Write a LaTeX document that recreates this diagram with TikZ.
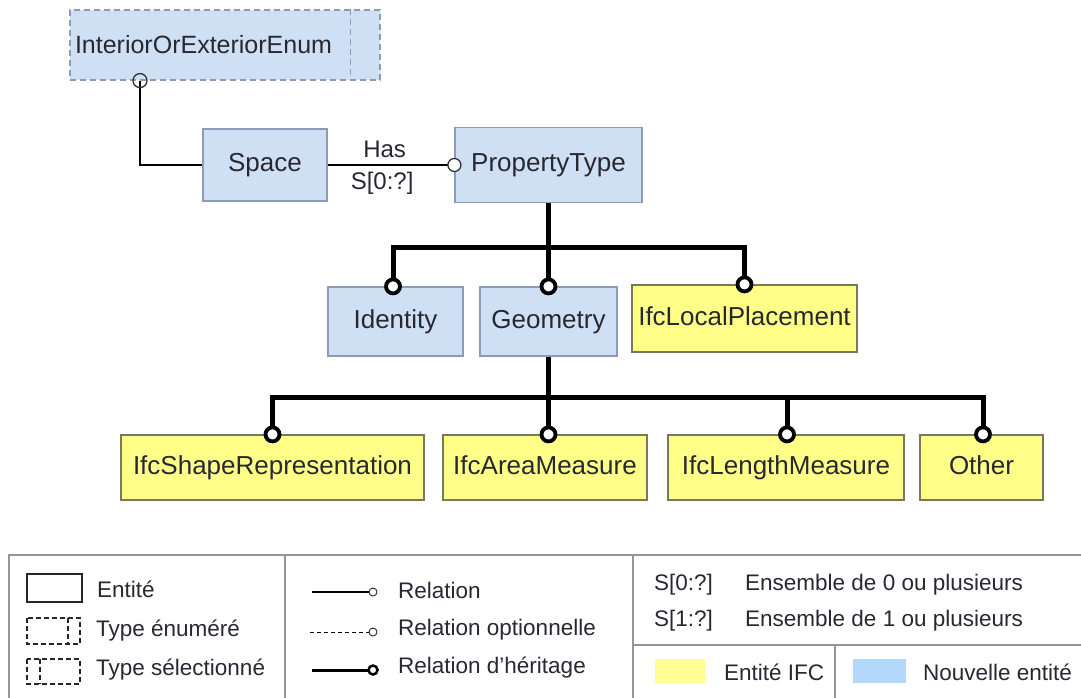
\documentclass[tikz,border=0pt]{standalone}
\usepackage{fontspec}
\setmainfont{Liberation Sans}
\usepackage{tikz}
\usetikzlibrary{positioning, calc}
\definecolor{newblue}{RGB}{208, 224, 244}
\definecolor{newblueline}{RGB}{138, 156, 184}
\definecolor{ifcyellow}{RGB}{255, 255, 136}
\definecolor{ifcyellowline}{RGB}{120, 120, 96}
\definecolor{swatchyellow}{RGB}{255, 255, 150}
\definecolor{swatchblue}{RGB}{180, 216, 252}
\definecolor{framegray}{RGB}{150, 150, 150}
\definecolor{textdark}{RGB}{40, 40, 50}

\begin{document}
\begin{tikzpicture}[
    x=1pt, y=-1pt,
    new_entity/.style={
        rectangle, draw=newblueline, fill=newblue, line width=1.2pt,
        inner sep=0pt, text height=18pt, text depth=5pt,
        font=\fontsize{26}{28}\selectfont, text=textdark
    },
    ifc_entity/.style={
        rectangle, draw=ifcyellowline, fill=ifcyellow, line width=1.2pt,
        inner sep=0pt, text height=18pt, text depth=5pt,
        font=\fontsize{26}{28}\selectfont, text=textdark
    },
    enum_box/.style={
        rectangle, draw=newblueline, fill=newblue, line width=1.2pt, dash pattern=on 6pt off 4pt,
        text width=300pt, align=left, inner sep=5pt, minimum height=70pt,
        font=\fontsize{25}{28}\selectfont, text=textdark
    },
    relation/.style={draw=black, line width=1.5pt},
    inherit/.style={draw=black, line width=5pt},
    knob/.style={draw=black, line width=3.8pt, fill=white},
    ring/.style={draw=black!80, line width=1.3pt},
    card/.style={font=\fontsize{24}{26}\selectfont, text=textdark},
    legend_txt/.style={font=\fontsize{22.5}{25}\selectfont, text=textdark, anchor=west, inner sep=0pt},
    legend_dash/.style={black!85, line width=1.3pt, dash pattern=on 5pt off 3pt},
    frame/.style={draw=framegray, line width=1.5pt}
]
    \useasboundingbox (0,0) rectangle (1081,698);

    % Top: enumerated type
    \node[enum_box] (enum) at (225, 45) {InteriorOrExteriorEnum};
    \draw[newblueline, line width=1.2pt, dash pattern=on 6pt off 4pt] ($(enum.north east)+(-30,0)$) -- ($(enum.south east)+(-30,0)$);

    % Second row: Space and PropertyType
    \node[new_entity, minimum width=124pt, minimum height=72pt] (space) at (265, 165) {Space};
    \node[new_entity, minimum width=187pt, minimum height=75pt] (prop) at (548.5, 165) {PropertyType};

    % Third row
    \node[new_entity, minimum width=135pt, minimum height=69pt] (ident) at (395.5, 321.5) {Identity};
    \node[new_entity, minimum width=137pt, minimum height=69pt] (geom) at (548.5, 321.5) {Geometry};
    \node[ifc_entity, minimum width=225pt, minimum height=67pt] (locpl) at (744.5, 318.5) {IfcLocalPlacement};

    % Bottom row: IFC entities
    \node[ifc_entity, minimum width=303pt, minimum height=65pt] (shaperep) at (272.5, 467.5) {IfcShapeRepresentation};
    \node[ifc_entity, minimum width=204pt, minimum height=65pt] (area) at (545, 467.5) {IfcAreaMeasure};
    \node[ifc_entity, minimum width=236pt, minimum height=65pt] (length) at (786, 467.5) {IfcLengthMeasure};
    \node[ifc_entity, minimum width=123pt, minimum height=65pt] (other) at (981.5, 467.5) {Other};

    % --- Relations ---
    \coordinate (enum_knob) at (enum.south -| 140,0);
    \draw[relation] (enum_knob) |- (space.west);
    \draw[ring] (enum_knob) circle (7);

    \draw[relation] (space.east) -- (prop.west)
        node[card, pos=0.45, above=3pt] {Has}
        node[card, pos=0.43, below=3pt] {S[0:?]};
    \draw[ring, fill=white] (prop.west) circle (6.5);

    % --- Inheritance trees ---
    \coordinate (fork1) at (prop.south |- 0,247);
    \coordinate (ident_top) at (ident.north -| 393,0);
    \draw[inherit] (prop.south) -- (fork1);
    \draw[inherit] (ident_top) |- (fork1) -| (locpl.north);
    \draw[inherit] (fork1) -- (geom.north);

    \coordinate (fork2) at (geom.south |- 0,397);
    \coordinate (area_top) at (geom.south |- area.north);
    \coordinate (length_top) at (length.north -| 787,0);
    \coordinate (other_top) at (other.north -| 983,0);
    \draw[inherit] (geom.south) -- (fork2);
    \draw[inherit] (shaperep.north) |- (fork2) -| (other_top);
    \draw[inherit] (fork2) -- (area_top);
    \draw[inherit] (length_top) -- (length_top |- fork2);

    \foreach \k in {ident_top, geom.north, locpl.north, shaperep.north, area_top, length_top, other_top}
        \draw[knob] (\k) circle (7);

    % --- Legend ---
    \draw[frame] (9,698) -- (9,555) -- (1081,555);
    \draw[frame] (285,555) -- (285,698);
    \draw[frame] (633,555) -- (633,698);
    \draw[frame] (633,645) -- (1081,645);
    \draw[frame] (835,645) -- (835,698);

    % entity kinds
    \draw[black!85, line width=1.5pt] (27,574) rectangle (82,602);
    \node[legend_txt] (lg_ent) at (97,589) {Entité};
    \draw[legend_dash] (27,618) rectangle (80,644);
    \draw[legend_dash] (68,618) -- (68,644);
    \node[legend_txt] (lg_enum) at (96,631) {Type énuméré};
    \draw[legend_dash] (27,659) rectangle (80,684);
    \draw[legend_dash] (40,659) -- (40,684);
    \node[legend_txt] (lg_sel) at (96,670) {Type sélectionné};

    % relation kinds
    \node[legend_txt] (lg_rel) at (398,590) {Relation};
    \node[legend_txt] (lg_opt) at (398,630) {Relation optionnelle};
    \node[legend_txt] (lg_inh) at (398,668) {Relation d\symbol{39}héritage};
    \draw[black, line width=1.3pt] (312,592) -- (369,592);
    \draw[black!80, line width=1pt] (373,592) circle (4);
    \draw[black, line width=1pt, dash pattern=on 4pt off 3pt] (310,632) -- (369,632);
    \draw[black!80, line width=1pt] (373,632) circle (4);
    \draw[black, line width=3pt] (312,670) -- (368,670);
    \draw[black, line width=2.5pt] (373,670) circle (4.5);

    % cardinalities
    \node[legend_txt] (lg_s0) at (654,585) {S[0:?]};
    \node[legend_txt] (lg_s0d) at (745,585) {Ensemble de 0 ou plusieurs};
    \node[legend_txt] (lg_s1) at (654,621) {S[1:?]};
    \node[legend_txt] (lg_s1d) at (745,621) {Ensemble de 1 ou plusieurs};

    % colours
    \fill[swatchyellow] (655,659) rectangle (705,683);
    \node[legend_txt] (lg_ifc) at (724,672) {Entité IFC};
    \fill[swatchblue] (853,659) rectangle (906,683);
    \node[legend_txt] (lg_new) at (923,672) {Nouvelle entité};

\end{tikzpicture}
\end{document}
